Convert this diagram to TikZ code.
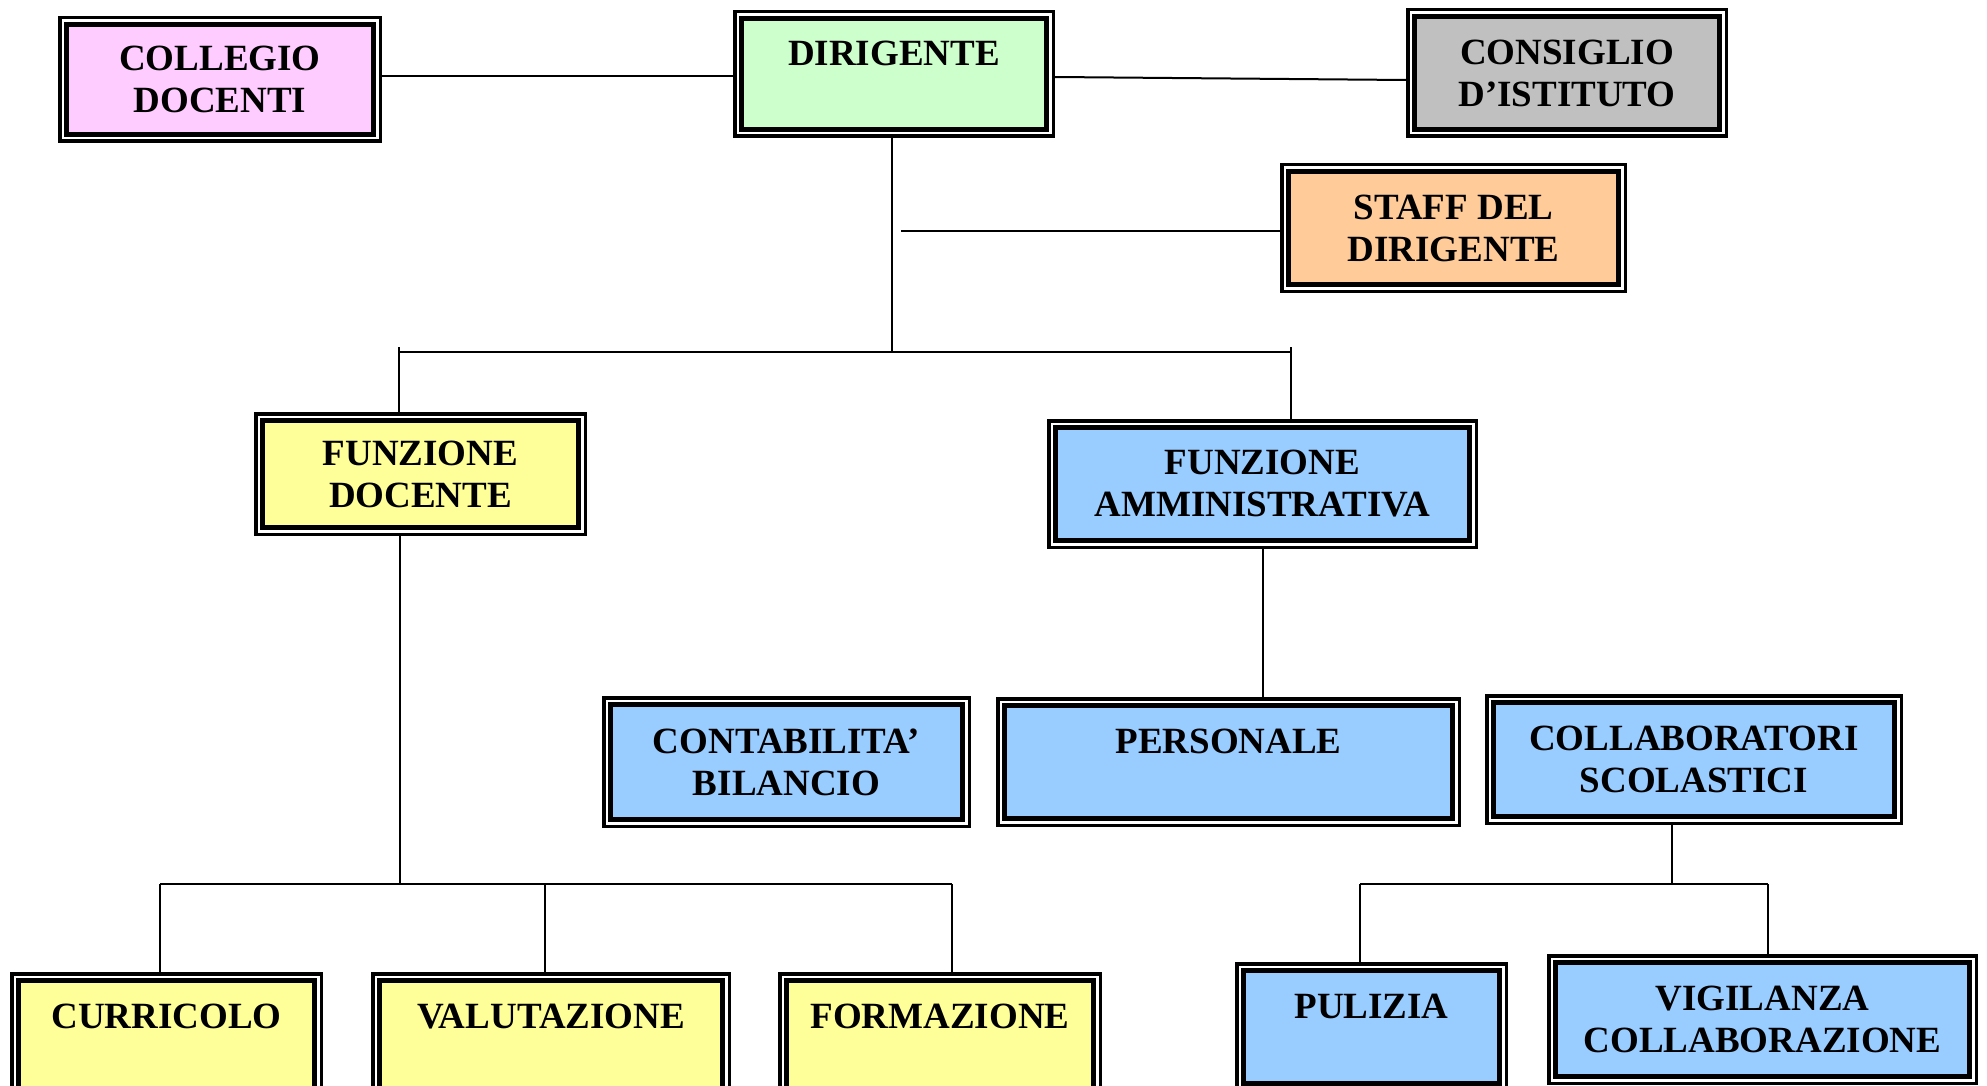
\documentclass[tikz,border=0pt]{standalone}
\usepackage{fontspec}
\setmainfont{Liberation Serif}

\definecolor{pinkbox}{HTML}{FFCCFF}
\definecolor{greenbox}{HTML}{CCFFCC}
\definecolor{greybox}{HTML}{C0C0C0}
\definecolor{orangebox}{HTML}{FFCC99}
\definecolor{yellowbox}{HTML}{FFFF99}
\definecolor{bluebox}{HTML}{99CCFF}

\tikzset{
  orgbox/.style={rectangle, draw=black, line width=2.5pt, align=center,
    preaction={draw=black, line width=8.5pt},
    preaction={draw=white, line width=5pt},
    outer sep=4.25pt, inner sep=2pt,
    font=\bfseries\fontsize{18.5pt}{21pt}\selectfont},
  link/.style={line width=1pt}
}

\begin{document}
\begin{tikzpicture}[x=0.5pt, y=-0.5pt]
\useasboundingbox (0,0) rectangle (1987,1086);

\begin{scope}[every node/.style={orgbox}]
\node[fill=pinkbox, minimum width=153.5pt, minimum height=55pt] (Collegio) at (220,79.5) {COLLEGIO\\DOCENTI};
\node[fill=greenbox, minimum width=152.5pt, minimum height=55.5pt] (Dirigente) at (894,74) {DIRIGENTE\\\phantom{X}};
\node[fill=greybox, minimum width=152.5pt, minimum height=56.5pt] (Consiglio) at (1567,73) {CONSIGLIO\\D’ISTITUTO};
\node[fill=orangebox, minimum width=165pt, minimum height=56.5pt] (Staff) at (1453.5,228) {STAFF DEL\\DIRIGENTE};
\node[fill=yellowbox, minimum width=158pt, minimum height=53.5pt] (FunzDoc) at (420.5,474) {FUNZIONE\\DOCENTE};
\node[fill=bluebox, minimum width=207pt, minimum height=56.5pt] (FunzAmm) at (1262.5,484) {FUNZIONE\\AMMINISTRATIVA};
\node[fill=bluebox, minimum width=176pt, minimum height=57.5pt] (Contab) at (786.5,762) {CONTABILITA’\\BILANCIO};
\node[fill=bluebox, minimum width=224pt, minimum height=56.5pt] (Personale) at (1228.5,762) {PERSONALE\\\phantom{X}};
\node[fill=bluebox, minimum width=200.5pt, minimum height=57pt] (Collab) at (1694,759.5) {COLLABORATORI\\SCOLASTICI};
\node[fill=yellowbox, minimum width=148pt, minimum height=56.5pt] (Curricolo) at (166.5,1037) {CURRICOLO\\\phantom{X}};
\node[fill=yellowbox, minimum width=171.5pt, minimum height=56.5pt] (Valutazione) at (551,1037) {VALUTAZIONE\\\phantom{X}};
\node[fill=yellowbox, minimum width=153.5pt, minimum height=56.5pt] (Formazione) at (940,1037) {FORMAZIONE\\\phantom{X}};
\node[fill=bluebox, minimum width=128pt, minimum height=56.5pt] (Pulizia) at (1371.5,1027) {PULIZIA\\\phantom{X}};
\node[fill=bluebox, minimum width=207pt, minimum height=57pt] (Vigilanza) at (1762.5,1019.5) {VIGILANZA\\COLLABORAZIONE};
\end{scope}

\begin{scope}[link]
% top row
\draw ([yshift=1.75pt]Collegio.east) -- ([yshift=1.75pt]Collegio.east -| Dirigente.west);
\draw ([yshift=-1.5pt]Dirigente.east) -- ([yshift=-3.5pt]Consiglio.west);

\coordinate (TopBar) at (892,352);
\coordinate (TickL) at (399,347);
\coordinate (TickR) at (1291,347);
\coordinate (StaffStub) at (901,231);
\draw (Dirigente.south -| TopBar) -- (TopBar);
\draw (StaffStub) -- (StaffStub -| Staff.west);
\draw (TickL |- TopBar) -- (TickR |- TopBar);
\draw (TickL) -- (TickL |- FunzDoc.north);
\draw (TickR) -- (TickR |- FunzAmm.north);

% funzione docente
\coordinate (DocBar) at (400,884);
\coordinate (DocL) at (160,884);
\coordinate (DocM) at (545,884);
\coordinate (DocR) at (952,884);
\draw (DocBar |- FunzDoc.south) -- (DocBar);
\draw (DocL) -- (DocR);
\draw (DocL) -- (DocL |- Curricolo.north);
\draw (DocM) -- (DocM |- Valutazione.north);
\draw (DocR) -- (DocR |- Formazione.north);

% funzione amministrativa
\draw (FunzAmm.south) -- (FunzAmm.south |- Personale.north);
\coordinate (CollBar) at (1672,884);
\coordinate (CollL) at (1360,884);
\coordinate (CollR) at (1768,884);
\draw (CollBar |- Collab.south) -- (CollBar);
\draw (CollL) -- (CollR);
\draw (CollL) -- (CollL |- Pulizia.north);
\draw (CollR) -- (CollR |- Vigilanza.north);
\end{scope}
\end{tikzpicture}
\end{document}
